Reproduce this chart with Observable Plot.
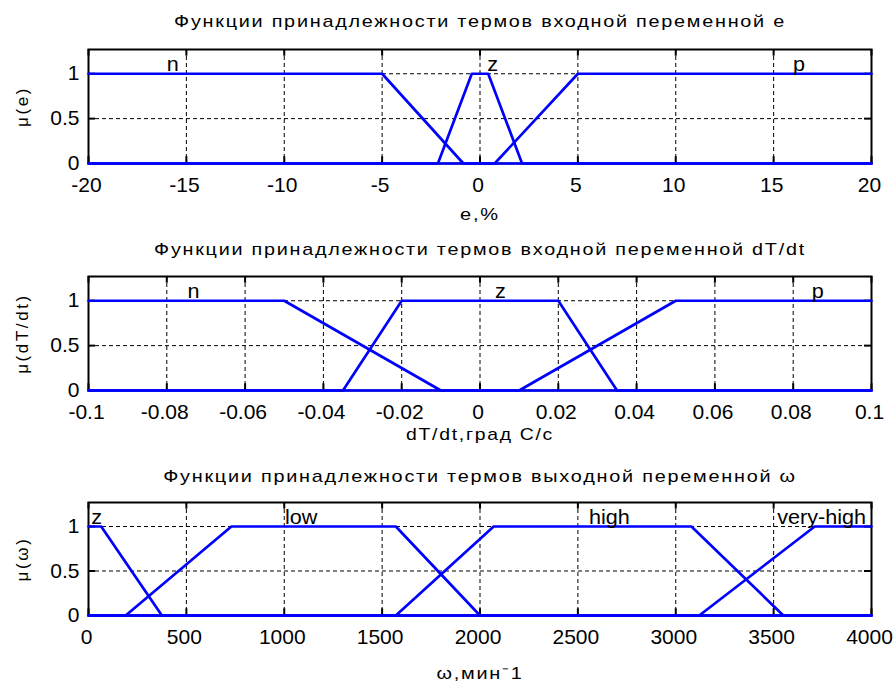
<!DOCTYPE html>
<html><head><meta charset="utf-8">
<script src="https://cdn.jsdelivr.net/npm/d3@7"></script>
<script src="https://cdn.jsdelivr.net/npm/@observablehq/plot@0.6"></script>
<style>
body{margin:0;background:#fff;}
#chart svg{display:block;}
</style></head><body><div id="chart"></div>
<script>
// ---------- Panel 1: input variable e ----------
const eTitle = "Функции принадлежности термов входной переменной e";
const eXLabel = "e,%";
const eYLabel = "μ(e)";
const eDomain = [-20, 20];
const eTerms = ["n", "z", "p"];
const eParams = [[-20, -20, -5, -0.85], [-2.15, -0.42, 0.42, 2.15], [0.75, 5, 20, 20]];
const eLabelX = [-15.7, 0.65, 16.3];
const eTicks = [-20, -15, -10, -5, 0, 5, 10, 15, 20];
const eTickLabels = ["-20", "-15", "-10", "-5", "0", "5", "10", "15", "20"];

// ---------- Panel 2: input variable dT/dt ----------
const dTitle = "Функции принадлежности термов входной переменной dT/dt";
const dXLabel = "dT/dt,град С/с";
const dYLabel = "μ(dT/dt)";
const dDomain = [-0.1, 0.1];
const dTerms = ["n", "z", "p"];
const dParams = [[-0.1, -0.1, -0.05, -0.01], [-0.035, -0.02, 0.02, 0.035], [0.01, 0.05, 0.1, 0.1]];
const dLabelX = [-0.0732, 0.0052, 0.0863];
const dTicks = [-0.1, -0.08, -0.06, -0.04, -0.02, 0, 0.02, 0.04, 0.06, 0.08, 0.1];
const dTickLabels = ["-0.1", "-0.08", "-0.06", "-0.04", "-0.02", "0", "0.02", "0.04", "0.06", "0.08", "0.1"];

// ---------- Panel 3: output variable ω ----------
const wTitle = "Функции принадлежности термов выходной переменной ω";
const wXLabel = "ω,мин⁻1";
const wYLabel = "μ(ω)";
const wDomain = [0, 4000];
const wTerms = ["z", "low", "high", "very-high"];
const wParams = [[0, 0, 65, 375], [190, 730, 1570, 2000], [1570, 2070, 3080, 3550], [3120, 3710, 4000, 4000]];
const wLabelX = [41, 1086, 2661, 3745];
const wTicks = [0, 500, 1000, 1500, 2000, 2500, 3000, 3500, 4000];
const wTickLabels = ["0", "500", "1000", "1500", "2000", "2500", "3000", "3500", "4000"];

// ---------- membership axis ----------
const muTicks = [0, 0.5, 1];
const muTickLabels = ["0", "0.5", "1"];
const muGrid = [0.5, 1];

// trapezoidal membership function
function trapmf(x, [a, b, c, d]) {
  if (x < a || x > d) return 0;
  if (x >= b && x <= c) return 1;
  if (x < b) return (x - a) / (b - a);
  return (d - x) / (d - c);
}
function mfPoints(p, lo, hi) {
  const xs = Array.from(new Set([lo, ...p, hi])).filter(x => x >= lo && x <= hi).sort((u, v) => u - v);
  return xs.map(x => [x, trapmf(x, p)]);
}

const stretchJobs = [];
const spacingJobs = [];

function panel(o) {
  const [lo, hi] = o.domain;
  const yMax = 1.27;
  const lines = o.terms.flatMap((t, i) => mfPoints(o.params[i], lo, hi).map(([x, y]) => ({term: t, x, y})));
  const inner = o.ticks.slice(1, -1);
  const tlY = 0.075, tlX = (hi - lo) * 0.009;
  const fx = d => o.tickLabels[o.ticks.indexOf(d)];
  const fy = d => muTickLabels[muTicks.indexOf(d)];
  const black = {stroke: "black", strokeWidth: 2};
  const dash = {stroke: "black", strokeWidth: 1, strokeDasharray: "4,3"};
  const svg = Plot.plot({
    width: 893, height: o.height,
    marginTop: o.marginTop, marginBottom: o.marginBottom, marginLeft: 88, marginRight: 22,
    x: {domain: o.domain},
    y: {domain: [0, yMax]},
    style: {fontFamily: "'Liberation Sans', Arial, sans-serif", color: "black", background: "white"},
    marks: [
      Plot.ruleX(inner, dash),
      Plot.ruleY(muGrid, dash),
      Plot.ruleX(o.ticks, {y1: yMax, y2: yMax - tlY, ...black}),
      Plot.ruleX(o.ticks, {y1: 0, y2: tlY, ...black}),
      Plot.ruleY(muTicks, {x1: lo, x2: lo + tlX, ...black}),
      Plot.ruleY(muTicks, {x1: hi, x2: hi - tlX, ...black}),
      Plot.frame(black),
      Plot.line(lines, {x: "x", y: "y", z: "term", stroke: "#0000ff", strokeWidth: 2.7}),
      Plot.text(o.terms, {x: o.labelX, y: 1, text: d => d, dy: -9, fontSize: 20, fill: "black"}),
      Plot.axisX(o.ticks, {tickSize: 0, tickPadding: 14, fontSize: 21, tickFormat: fx, label: null, dx: -2}),
      Plot.axisY(muTicks, {tickSize: 0, tickPadding: 9, fontSize: 21, tickFormat: fy, label: null}),
      Plot.text([o.title], {frameAnchor: "top", dy: o.titleDy, text: d => d, fontSize: 17, textAnchor: "middle", lineAnchor: "middle", fill: "black"}),
      Plot.text([o.xLabel], {frameAnchor: "bottom", dy: o.xLabelDy, text: d => d, fontSize: 17, textAnchor: "middle", lineAnchor: "middle", fill: "black"}),
      Plot.text([o.yLabel], {frameAnchor: "left", dx: -66, rotate: -90, text: d => d, fontSize: 17, textAnchor: "middle", lineAnchor: "middle", fill: "black"})
    ]
  });
  stretchJobs.push([svg, new Set([o.title, o.xLabel]), 1.36, 1.5]);
  stretchJobs.push([svg, new Set(o.terms), 1.08, 0]);
  spacingJobs.push([svg, o.yLabel, 2.6]);
  return svg;
}

const chart = document.getElementById("chart");
chart.append(panel({title: eTitle, xLabel: eXLabel, yLabel: eYLabel, domain: eDomain, terms: eTerms, params: eParams,
  labelX: eLabelX, ticks: eTicks, tickLabels: eTickLabels, height: 227, marginTop: 49, marginBottom: 64, titleDy: -28, xLabelDy: 51}));
chart.append(panel({title: dTitle, xLabel: dXLabel, yLabel: dYLabel, domain: dDomain, terms: dTerms, params: dParams,
  labelX: dLabelX, ticks: dTicks, tickLabels: dTickLabels, height: 227, marginTop: 49, marginBottom: 64, titleDy: -27, xLabelDy: 44}));
chart.append(panel({title: wTitle, xLabel: wXLabel, yLabel: wYLabel, domain: wDomain, terms: wTerms, params: wParams,
  labelX: wLabelX, ticks: wTicks, tickLabels: wTickLabels, height: 230, marginTop: 48, marginBottom: 69, titleDy: -26, xLabelDy: 58}));

// MATLAB-style widened, spaced lettering for titles and axis labels
for (const [svg, texts, k, ls] of stretchJobs) {
  d3.select(svg).selectAll("text")
    .filter(function() { return texts.has(this.textContent); })
    .each(function() {
      const len = this.getComputedTextLength();
      if (ls) this.style.letterSpacing = ls + "px";
      this.setAttribute("textLength", (len * k).toFixed(1));
      this.setAttribute("lengthAdjust", "spacingAndGlyphs");
    });
}
for (const [svg, label, ls] of spacingJobs) {
  d3.select(svg).selectAll("text")
    .filter(function() { return this.textContent === label; })
    .style("letter-spacing", ls + "px");
}
</script></body></html>
